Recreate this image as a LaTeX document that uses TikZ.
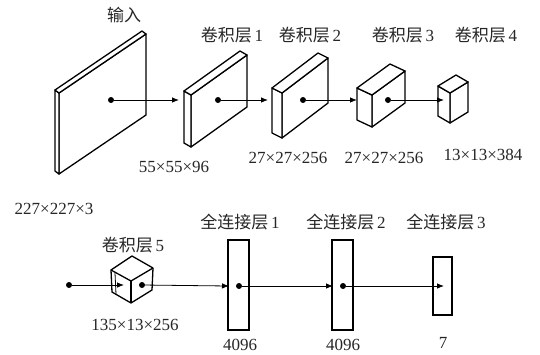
\documentclass[tikz,border=0pt]{standalone}
\usepackage{fontspec}
\setmainfont{Liberation Serif}
\newfontfamily\cjk{Noto Sans CJK SC}
\usetikzlibrary{arrows.meta}
\newcommand\prism[7]{%
  \filldraw[boxline] (#1,#2) -- ++(0,#4) -- ++(#3,-#5) -- ++(0,-#4) -- cycle;
  \filldraw[boxline] (#1,#2) -- ++(-#6,-#7) -- ++(0,#4) -- ++(#6,#7) -- cycle;
  \filldraw[boxline] (#1,#2) -- ++(-#6,-#7) -- ++(#3,-#5) -- ++(#6,#7) -- cycle;
}
\tikzset{
  boxline/.style={draw=black, fill=white, line width=1.3pt, line join=round},
  fcbox/.style={draw=black, fill=white, line width=1.1pt, inner sep=0pt},
  dot/.style={circle, fill=black, inner sep=0pt, minimum size=6pt},
  arr/.style={line width=0.8pt, -{Latex[length=7pt,width=5.5pt]}, shorten >=0pt},
  lbl/.style={inner sep=0pt, font=\fontsize{17}{20}\selectfont, text=black!85}
}
\begin{document}
\begin{tikzpicture}[x=1pt, y=-1pt]
\useasboundingbox (0,0) rectangle (540,354);
% top row boxes
\prism{59}{93}{87}{81}{59}{4}{3}
\prism{191}{95}{56}{52}{40}{7}{4}
\prism{282}{93}{46}{45}{35}{10}{5}
\prism{372}{95}{33}{32}{24}{15}{7}
\prism{450}{93}{18}{30}{11}{12}{7}
% conv5 cube
\filldraw[boxline] (132,256) -- (111,270) -- (112,292) -- (131,303) -- (152,290) -- (153,268) -- cycle;
\draw[boxline, fill=none] (111,270) -- (131,281) -- (153,268);
\draw[boxline, fill=none] (131,281) -- (131,303);
\draw[line width=0.8pt] (115,273) -- (116,294);
% fc boxes
\node[fcbox, minimum width=21pt, minimum height=90pt] (fc1) at (238.5,285) {};
\node[fcbox, minimum width=21pt, minimum height=90pt] (fc2) at (342.5,285) {};
\node[fcbox, minimum width=19pt, minimum height=58pt] (fc3) at (442.5,286) {};
% dots and arrow targets, top row
\node[dot] (d0) at (111,100) {};
\node[dot] (d1) at (218,100) {};
\node[dot] (d2) at (303,100) {};
\node[dot] (d3) at (388,100) {};
\coordinate (t1) at (179,100);
\coordinate (t2) at (268,100);
\coordinate (t3) at (357,100);
\coordinate (t4) at (444,100);
\draw[arr] (d0) -- (t1);
\draw[arr] (d1) -- (t2);
\draw[arr] (d2) -- (t3);
\draw[arr] (d3) -- (t4);
% bottom row
\node[dot] (s0) at (69,285) {};
\node[dot] (d5) at (142,285) {};
\node[dot] (f1) at (239,286) {};
\node[dot] (f2) at (343,286) {};
\coordinate (u5) at (124,285);
\coordinate (u6) at (229,286);
\coordinate (u7) at (333,286);
\coordinate (u8) at (444,286);
\draw[arr] (s0) -- (u5);
\draw[arr] (d5) -- (u6);
\draw[arr] (f1) -- (u7);
\draw[arr] (f2) -- (u8);
% labels
\node[lbl] (l0) at (124,15) {\cjk 输入};
\node[lbl] (l1) at (232,35) {{\cjk 卷积层}\,1};
\node[lbl] (l2) at (310,35) {{\cjk 卷积层}\,2};
\node[lbl] (l3) at (403,35) {{\cjk 卷积层}\,3};
\node[lbl] (l4) at (486,35) {{\cjk 卷积层}\,4};
\node[lbl] (n1) at (174,167) {55×55×96};
\node[lbl] (n2) at (288,158) {27×27×256};
\node[lbl] (n3) at (384,158) {27×27×256};
\node[lbl] (n4) at (483,155) {13×13×384};
\node[lbl] (n0) at (54,209) {227×227×3};
\node[lbl] (l5) at (133,245) {{\cjk 卷积层}\,5};
\node[lbl] (l6) at (240,222) {{\cjk 全连接层}\,1};
\node[lbl] (l7) at (346,222) {{\cjk 全连接层}\,2};
\node[lbl] (l8) at (446,222) {{\cjk 全连接层}\,3};
\node[lbl] (n5) at (135,325) {135×13×256};
\node[lbl] (n6) at (240,345) {4096};
\node[lbl] (n7) at (343,345) {4096};
\node[lbl] (n8) at (443,343) {7};
\end{tikzpicture}
\end{document}
